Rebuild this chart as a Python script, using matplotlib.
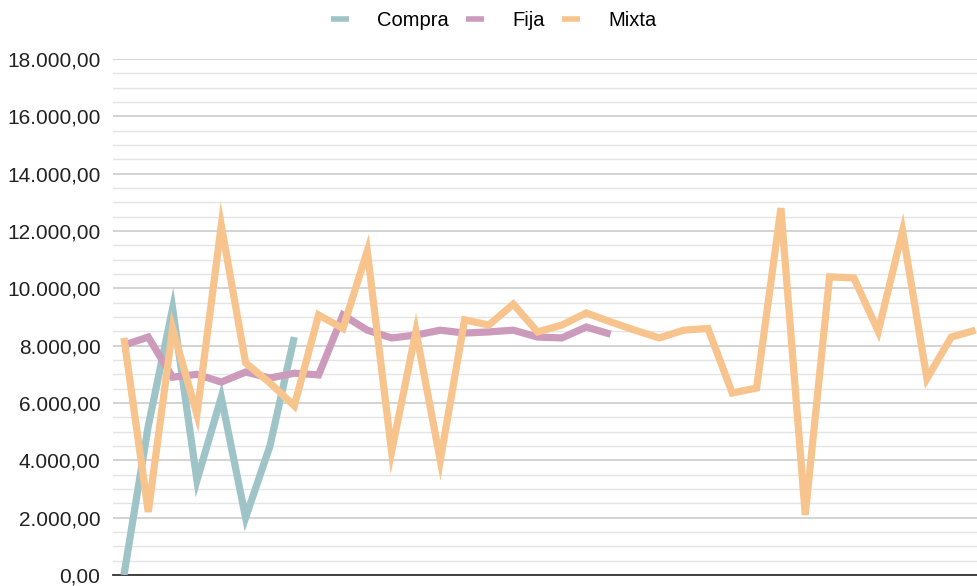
import matplotlib.pyplot as plt
from matplotlib.ticker import FuncFormatter, MultipleLocator

compra = [0, 5200, 9300, 3300, 6200, 2000, 4500, 8300]
fija = [8020, 8300, 6900, 7000, 6730, 7080, 6870, 7040, 6980, 9070, 8540,
        8270, 8370, 8540, 8440, 8480, 8540, 8300, 8270, 8650, 8400]
mixta = [8270, 2200, 8600, 5600, 12200, 7400, 6700, 5900, 9070, 8600, 11300,
         4300, 8500, 4000, 8900, 8720, 9450, 8480, 8720, 9140, 8830, 8540,
         8270, 8540, 8600, 6350, 6520, 12800, 2100, 10400, 10360, 8500,
         12000, 6850, 8300, 8540]

series = [("Compra", compra, "#9fc4c7"),
          ("Fija", fija, "#cc9bbb"),
          ("Mixta", mixta, "#f8c48e")]


def es_number(v, pos):
    s = f"{v:,.2f}"
    return s.replace(",", "X").replace(".", ",").replace("X", ".")


plt.rcParams['font.family'] = ['Liberation Sans', 'DejaVu Sans']

fig = plt.figure(figsize=(9.78, 5.86), dpi=100)
ax = fig.add_axes([113 / 978, 11 / 586, 1 - 113 / 978, (575 - 59) / 586])

for name, values, color in series:
    ax.plot(range(len(values)), values, color=color, lw=5.2, label=name,
            solid_joinstyle='miter', solid_capstyle='butt', zorder=3)

ax.set_xlim(-0.45, 35.1)
ax.set_ylim(0, 18000)
ax.yaxis.set_major_locator(MultipleLocator(2000))
ax.yaxis.set_minor_locator(MultipleLocator(500))
ax.yaxis.set_major_formatter(FuncFormatter(es_number))
ax.grid(which='major', axis='y', color='#c8c8c8', lw=1.1)
ax.grid(which='minor', axis='y', color='#e4e4e4', lw=1.0)
ax.set_axisbelow(True)

for side in ['top', 'right', 'left']:
    ax.spines[side].set_visible(False)
ax.spines['bottom'].set_color('#333333')
ax.spines['bottom'].set_linewidth(1.3)
ax.set_xticks([])
ax.tick_params(axis='y', which='both', length=0, pad=9, labelsize=15,
               labelcolor='#222222')

fig.legend(loc='upper center', bbox_to_anchor=(0.5046, 1.012), ncol=3,
           frameon=False, fontsize=14.5, handlelength=0.9, handletextpad=1.4,
           columnspacing=0.85)
for line in fig.legends[0].get_lines():
    line.set_linewidth(4)

fig.savefig("out.png", dpi=100)
